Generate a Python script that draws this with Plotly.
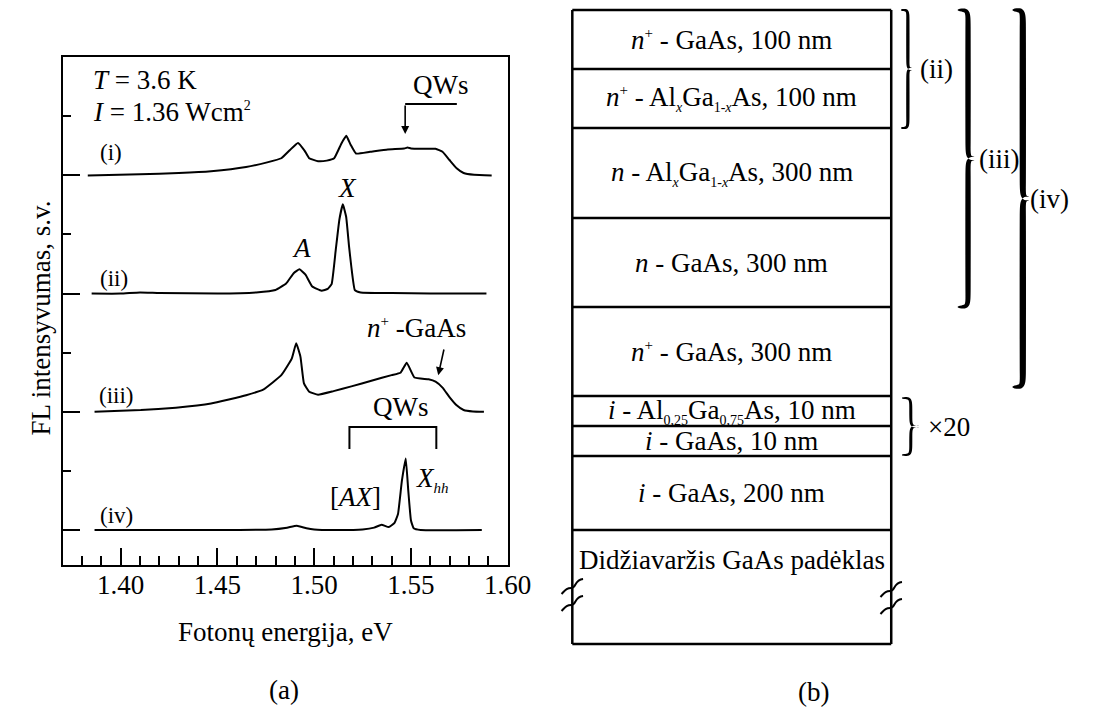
import math
import plotly.graph_objects as go

FONT = "Times New Roman, Liberation Serif, serif"
FS = 27

# ---------------- (a) photoluminescence spectra ----------------
SPECTRUM_LABELS = ["(i)", "(ii)", "(iii)", "(iv)"]
SPECTRUM_OFFSETS = [6, 4, 2, 0]

ENERGY_I = [1.383, 1.410, 1.430, 1.4467, 1.4648, 1.4757, 1.483, 1.4875, 1.4916,
            1.4950, 1.4974, 1.502, 1.5065, 1.5103, 1.5142, 1.5166, 1.5188, 1.5216,
            1.5288, 1.538, 1.5465, 1.5482, 1.550, 1.5556, 1.5627, 1.5663, 1.5699,
            1.5736, 1.5772, 1.5826, 1.5917]
INTENSITY_I = [0.0, 0.02, 0.04, 0.07, 0.14, 0.22, 0.29, 0.43, 0.55,
               0.42, 0.29, 0.24, 0.25, 0.29, 0.55, 0.67, 0.52, 0.37,
               0.40, 0.44, 0.455, 0.47, 0.455, 0.45, 0.45, 0.40, 0.26,
               0.12, 0.04, 0.01, 0.0]

ENERGY_II = [1.385, 1.400, 1.410, 1.420, 1.450, 1.470, 1.480, 1.4855, 1.4895,
             1.4924, 1.4955, 1.499, 1.5038, 1.5070, 1.5090, 1.5111, 1.5130, 1.5148,
             1.5165, 1.5180, 1.5192, 1.5210, 1.5240, 1.540, 1.560, 1.589]
INTENSITY_II = [0.0, 0.0, 0.02, 0.01, 0.0, 0.02, 0.06, 0.17, 0.35,
                0.41, 0.32, 0.12, 0.05, 0.08, 0.16, 0.73, 1.25, 1.51,
                1.30, 0.80, 0.45, 0.06, 0.02, 0.01, 0.0, 0.0]

ENERGY_III = [1.3865, 1.4104, 1.4285, 1.4467, 1.4648, 1.4739, 1.483, 1.4884,
              1.4907, 1.4929, 1.4947, 1.4974, 1.502, 1.510, 1.5192, 1.530, 1.540,
              1.5446, 1.5478, 1.5518, 1.5591, 1.5627, 1.5663, 1.5699, 1.5736,
              1.5772, 1.5820, 1.5877]
INTENSITY_III = [0.0, 0.03, 0.07, 0.14, 0.28, 0.38, 0.62, 0.90,
                 1.16, 0.93, 0.48, 0.34, 0.29, 0.35, 0.43, 0.53, 0.62,
                 0.66, 0.83, 0.58, 0.55, 0.51, 0.41, 0.25, 0.11,
                 0.03, 0.005, 0.0]

ENERGY_IV = [1.3865, 1.450, 1.478, 1.486, 1.491, 1.496, 1.500, 1.510, 1.525,
             1.531, 1.5348, 1.5385, 1.5415, 1.5433, 1.5453, 1.5473, 1.5486,
             1.5500, 1.5514, 1.555, 1.5866]
INTENSITY_IV = [0.0, 0.0, 0.01, 0.04, 0.07, 0.03, 0.01, 0.0, 0.01,
                0.04, 0.09, 0.05, 0.12, 0.27, 0.83, 1.21, 0.67,
                0.16, 0.03, 0.0, 0.0]

ENERGIES = [ENERGY_I, ENERGY_II, ENERGY_III, ENERGY_IV]
INTENSITIES = [INTENSITY_I, INTENSITY_II, INTENSITY_III, INTENSITY_IV]

X_TICKS = [1.40, 1.45, 1.50, 1.55, 1.60]
X_TICK_TEXT = ["1.40", "1.45", "1.50", "1.55", "1.60"]


def small(s, px=14):
    return f'<span style="font-size:{px}px">{s}</span>'


SUP_PLUS = "<sup>" + small("+", 15) + "</sup>"
SUB_X = "<sub>" + small("<i>x</i>") + "</sub>"
SUB_1X = "<sub>" + small("1-<i>x</i>") + "</sub>"

# ---------------- (b) layer structure ----------------
LAYER_LABELS = [
    f"<i>n</i>{SUP_PLUS} - GaAs, 100 nm",
    f"<i>n</i>{SUP_PLUS} - Al{SUB_X}Ga{SUB_1X}As, 100 nm",
    f"<i>n</i> - Al{SUB_X}Ga{SUB_1X}As, 300 nm",
    "<i>n</i> - GaAs, 300 nm",
    f"<i>n</i>{SUP_PLUS} - GaAs, 300 nm",
    "<i>i</i> - Al<sub>" + small("0,25") + "</sub>Ga<sub>" + small("0,75") + "</sub>As, 10 nm",
    "<i>i</i> - GaAs, 10 nm",
    "<i>i</i> - GaAs, 200 nm",
    "Didžiavaržis GaAs padėklas",
]
# drawn row heights of the stack (diagram units, not to scale)
LAYER_ROWS = [59, 59, 90, 89, 89, 30, 30, 74, 114]
# which rows each excitation depth brace spans (first, last)
BRACE_GROUPS = [("(ii)", 0, 1), ("(iii)", 0, 3), ("(iv)", 0, 4)]
PERIOD_GROUP = ("×20", 5, 6)

fig = go.Figure()

for lab, off, ex, iy in zip(SPECTRUM_LABELS, SPECTRUM_OFFSETS, ENERGIES, INTENSITIES):
    fig.add_trace(go.Scatter(
        x=ex, y=[v + off for v in iy], mode="lines", name=lab,
        line=dict(color="black", width=2, shape="spline", smoothing=0.35),
        showlegend=False, hoverinfo="skip", xaxis="x", yaxis="y"))

# Invisible pixel-space axes for the layer diagram
fig.add_trace(go.Scatter(x=[0], y=[0], mode="markers", marker=dict(opacity=0),
                         showlegend=False, hoverinfo="skip", xaxis="x2", yaxis="y2"))

X0, X1 = 64, 519
Y0, Y1 = 57, 565
W, H = 1106, 712

axis_font = dict(family=FONT, size=FS, color="black")

fig.update_layout(
    width=W, height=H, margin=dict(l=0, r=0, t=0, b=0),
    paper_bgcolor="white", plot_bgcolor="rgba(0,0,0,0)",
    font=dict(family=FONT, color="black"),
    xaxis=dict(domain=[X0 / W, X1 / W], range=[1.37, 1.60],
               tickvals=X_TICKS, ticktext=X_TICK_TEXT, ticks="inside", ticklen=17,
               tickwidth=2, tickcolor="black", showline=True, linewidth=2,
               linecolor="black", mirror=True, showgrid=False, zeroline=False,
               tickfont=axis_font, ticklabelstandoff=-5,
               minor=dict(ticks="inside", dtick=0.01, tick0=1.40, ticklen=9,
                          tickwidth=2, tickcolor="black", showgrid=False)),
    yaxis=dict(domain=[(H - Y1) / H, (H - Y0) / H], range=[-0.592, 8.003],
               tickvals=[0, 2, 4, 6], ticks="inside", ticklen=17, tickwidth=2,
               tickcolor="black", showticklabels=False, showline=True,
               linewidth=2, linecolor="black", mirror=True, showgrid=False,
               zeroline=False,
               minor=dict(ticks="inside", dtick=1, tick0=0, ticklen=8,
                          tickwidth=2, tickcolor="black", showgrid=False)),
    xaxis2=dict(domain=[0, 1], range=[0, W], visible=False, anchor="y2"),
    yaxis2=dict(domain=[0, 1], range=[H, 0], visible=False, anchor="x2"),
)

ann = []
shapes = []


def text(x, y, s, size=FS, xanchor="center", xref="x", yref="y"):
    ann.append(dict(x=x, y=y, text=s, showarrow=False, xref=xref, yref=yref,
                    xanchor=xanchor, yanchor="middle",
                    font=dict(family=FONT, size=size, color="black")))


# ---- panel (a) labels ----
text(1.3848, 7.62, "<i>T</i> = 3.6 K", xanchor="left")
text(1.3848, 7.07, "<i>I</i> = 1.36 Wcm<sup>" + small("2", 14) + "</sup>", xanchor="left")

curve_label_pos = [(1.3949, 6.38), (1.3965, 4.26), (1.398, 2.28), (1.398, 0.24)]
for lab, (lx, ly) in zip(SPECTRUM_LABELS, curve_label_pos):
    text(lx, ly, lab, size=23)

text(1.5657, 7.53, "QWs")
shapes.append(dict(type="line", xref="x", yref="y", x0=1.547, x1=1.5737,
                   y0=7.208, y1=7.208, line=dict(color="black", width=2)))
ann.append(dict(x=1.547, y=6.70, ax=1.547, ay=7.208, xref="x", yref="y",
                axref="x", ayref="y", showarrow=True, arrowhead=2, arrowsize=1,
                arrowwidth=1.6, arrowcolor="black", text=""))

text(1.4933, 4.77, "<i>A</i>")
text(1.5174, 5.79, "<i>X</i>")

text(1.5263, 3.42, f"<i>n</i>{SUP_PLUS} -GaAs", xanchor="left")
ann.append(dict(x=1.5641, y=2.62, ax=1.5672, ay=3.08, xref="x", yref="y",
                axref="x", ayref="y", showarrow=True, arrowhead=2, arrowsize=1,
                arrowwidth=1.6, arrowcolor="black", text=""))

text(1.545, 2.08, "QWs")
shapes.append(dict(type="path", xref="x", yref="y",
                   path="M 1.5182,1.37 L 1.5182,1.743 L 1.5631,1.743 L 1.5631,1.37",
                   line=dict(color="black", width=2)))
text(1.5212, 0.56, "[<i>AX</i>]")
text(1.5515, 0.86, "<i>X</i><sub>" + small("<i>hh</i>", 15) + "</sub>", xanchor="left")

text(0.5 * (X0 + X1) / W, (H - 632) / H, "Fotonų energija, eV", xref="paper", yref="paper")
ann.append(dict(x=25 / W, y=(H - 318) / H, xref="paper", yref="paper",
                text="FL intensyvumas, s.v.", textangle=-90, showarrow=False,
                font=dict(family=FONT, size=FS, color="black")))
text(290 / W, (H - 690) / H, "(a)", xref="paper", yref="paper")
text(832 / W, (H - 692) / H, "(b)", xref="paper", yref="paper")

# ---- panel (b) layer stack ----
BX0, BX1, BTOP = 585, 911, 10
bounds = [BTOP]
for h in LAYER_ROWS:
    bounds.append(bounds[-1] + h)

line_style = dict(color="black", width=2.5)
for yb in bounds:
    shapes.append(dict(type="line", xref="x2", yref="y2", x0=BX0, x1=BX1,
                       y0=yb, y1=yb, line=line_style))
for xb in (BX0, BX1):
    shapes.append(dict(type="line", xref="x2", yref="y2", x0=xb, x1=xb,
                       y0=bounds[0], y1=bounds[-1], line=line_style))

bx_mid = 0.5 * (BX0 + BX1)
for i, lab in enumerate(LAYER_LABELS):
    yc = 0.5 * (bounds[i] + bounds[i + 1])
    if i == len(LAYER_LABELS) - 1:
        yc = bounds[i] + 30
    text(bx_mid, yc, lab, xref="x2", yref="y2")

# break marks on the substrate sides
for xb, yb in ((BX0, 579), (BX1, 582)):
    for dy in (0, 17):
        y = yb + dy
        shapes.append(dict(
            type="path", xref="x2", yref="y2",
            path=(f"M {xb + 11},{y} C {xb + 2},{y + 1} {xb + 4},{y + 9} {xb - 1},{y + 9} "
                  f"S {xb - 7},{y + 11} {xb - 11},{y + 15}"),
            line=dict(color="black", width=2)))


def bezier(p0, p1, p2, p3, n=14):
    pts = []
    for k in range(n + 1):
        t = k / n
        a, b, c, d = (1 - t) ** 3, 3 * (1 - t) ** 2 * t, 3 * (1 - t) * t ** 2, t ** 3
        pts.append((a * p0[0] + b * p1[0] + c * p2[0] + d * p3[0],
                    a * p0[1] + b * p1[1] + c * p2[1] + d * p3[1]))
    return pts


def brace_path(x0, ya, yb, w, tmax, tmin=0.9):
    """Filled right-pointing curly brace outline from ya to yb."""
    m = 0.5 * (ya + yb)
    r = min(w * 0.8, (yb - ya) / 4)
    xc = x0 + w / 2
    half = bezier((x0, ya), (xc, ya), (xc, ya), (xc, ya + r))
    half += [(xc, ya + r + (m - 2 * r - ya) * k / 10) for k in range(1, 10)]
    half += bezier((xc, m - r), (xc, m), (xc, m), (x0 + w, m))
    out = []
    for sign in (1, -1):
        pts = half if sign == 1 else [(x, 2 * m - y) for x, y in half]
        n = len(pts)
        left, right = [], []
        for k, (x, y) in enumerate(pts):
            xa, ya_ = pts[max(k - 1, 0)]
            xb_, yb_ = pts[min(k + 1, n - 1)]
            dx, dy = xb_ - xa, yb_ - ya_
            ln = math.hypot(dx, dy) or 1
            nx, ny = -dy / ln, dx / ln
            th = tmin + (tmax - tmin) * math.sin(math.pi * k / (n - 1)) ** 0.4
            left.append((x + nx * th / 2, y + ny * th / 2))
            right.append((x - nx * th / 2, y - ny * th / 2))
        poly = left + right[::-1]
        out.append("M " + " L ".join(f"{px:.2f},{py:.2f}" for px, py in poly) + " Z")
    return " ".join(out)


brace_geom = {"(ii)": (921, 14, 3.4, 957, 0),
              "(iii)": (979, 21, 5.5, 1022, 0),
              "(iv)": (1035, 21, 6.5, 1073, -9)}
for lab, r0, r1 in BRACE_GROUPS:
    bx, bw, bt, lx, trim = brace_geom[lab]
    ya, yb = bounds[r0], bounds[r1 + 1] + trim
    shapes.append(dict(type="path", xref="x2", yref="y2",
                       path=brace_path(bx, ya, yb, bw, bt),
                       fillcolor="black", line=dict(width=0)))
    text(lx, 0.5 * (ya + yb), lab, xref="x2", yref="y2")

lab, r0, r1 = PERIOD_GROUP
ya, yb = bounds[r0] + 2, bounds[r1 + 1] - 1
shapes.append(dict(type="path", xref="x2", yref="y2",
                   path=brace_path(922, ya, yb, 18, 3.2),
                   fillcolor="black", line=dict(width=0)))
text(970, 0.5 * (ya + yb), lab, xref="x2", yref="y2")

fig.update_layout(annotations=ann, shapes=shapes)
fig.write_html("out.html")
